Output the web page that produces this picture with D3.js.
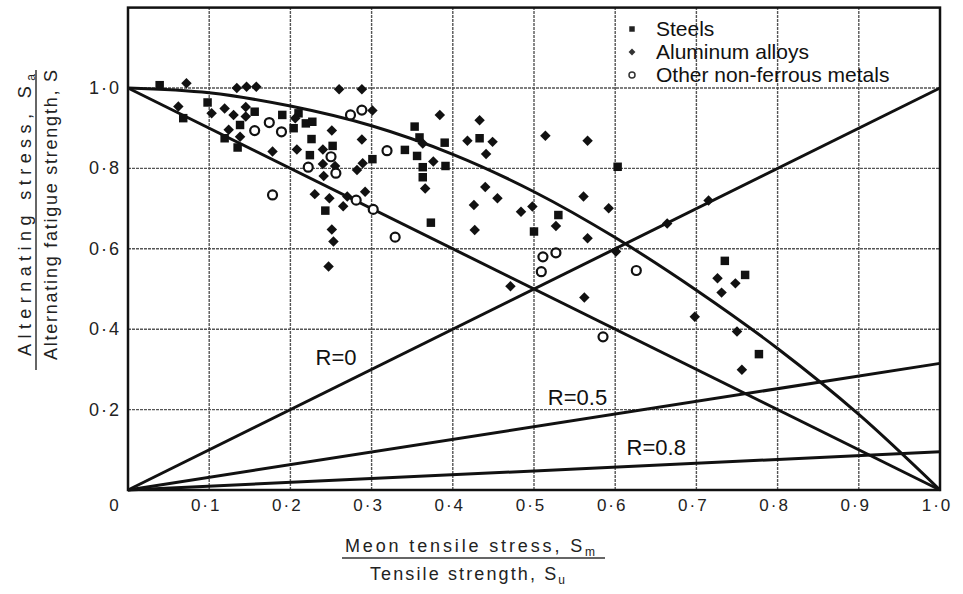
<!DOCTYPE html>
<html>
<head>
<meta charset="utf-8">
<script src="https://cdn.jsdelivr.net/npm/d3@7"></script>
<style>
  body { margin: 0; background: #fff; }
  svg { display: block; font-family: "Liberation Sans", Arial, sans-serif; }
</style>
</head>
<body>
<svg id="chart" width="963" height="594"></svg>
<script>
// x = Sm/Su, y = Sa/S
const steels = [
  [0.039, 1.007], [0.098, 0.964], [0.068, 0.925], [0.156, 0.941], [0.138, 0.908],
  [0.119, 0.875], [0.135, 0.852], [0.190, 0.933], [0.210, 0.937], [0.204, 0.900],
  [0.219, 0.912], [0.227, 0.916], [0.226, 0.873], [0.224, 0.833], [0.252, 0.856],
  [0.301, 0.823], [0.243, 0.695], [0.353, 0.904], [0.359, 0.877], [0.341, 0.846],
  [0.356, 0.831], [0.390, 0.864], [0.391, 0.806], [0.363, 0.803], [0.363, 0.778],
  [0.433, 0.875], [0.603, 0.804], [0.530, 0.684], [0.500, 0.643], [0.373, 0.665],
  [0.735, 0.570], [0.760, 0.535], [0.777, 0.338]
];
const aluminum = [
  [0.072, 1.012], [0.134, 1.000], [0.146, 1.003], [0.158, 1.003], [0.260, 0.997],
  [0.288, 0.997], [0.062, 0.954], [0.103, 0.937], [0.119, 0.949], [0.145, 0.953],
  [0.130, 0.933], [0.145, 0.929], [0.124, 0.896], [0.138, 0.879], [0.206, 0.925],
  [0.301, 0.944], [0.251, 0.894], [0.288, 0.872], [0.178, 0.842], [0.208, 0.847],
  [0.240, 0.847], [0.240, 0.811], [0.255, 0.806], [0.241, 0.781], [0.282, 0.796],
  [0.289, 0.813], [0.230, 0.736], [0.248, 0.726], [0.265, 0.706], [0.270, 0.730],
  [0.292, 0.742], [0.251, 0.648], [0.253, 0.618], [0.247, 0.556], [0.384, 0.933],
  [0.363, 0.862], [0.376, 0.817], [0.366, 0.750], [0.433, 0.920], [0.418, 0.869],
  [0.449, 0.866], [0.441, 0.836], [0.514, 0.881], [0.566, 0.869], [0.440, 0.754],
  [0.455, 0.726], [0.426, 0.709], [0.484, 0.692], [0.498, 0.705], [0.527, 0.657],
  [0.561, 0.730], [0.592, 0.701], [0.566, 0.626], [0.427, 0.647], [0.601, 0.593],
  [0.471, 0.507], [0.562, 0.479], [0.664, 0.663], [0.715, 0.720], [0.726, 0.527],
  [0.748, 0.514], [0.731, 0.491], [0.698, 0.431], [0.750, 0.394], [0.756, 0.299]
];
const otherMetals = [
  [0.156, 0.894], [0.174, 0.914], [0.189, 0.891], [0.288, 0.945], [0.274, 0.933],
  [0.319, 0.844], [0.250, 0.829], [0.256, 0.788], [0.222, 0.803], [0.178, 0.734],
  [0.281, 0.721], [0.302, 0.698], [0.329, 0.629], [0.511, 0.580], [0.527, 0.590],
  [0.509, 0.543], [0.626, 0.546], [0.585, 0.381]
];

// upper (Gerber-type) curve
const gerberCurve = [
  [0, 1.0], [0.1, 0.988], [0.2, 0.955], [0.3, 0.906], [0.4, 0.835], [0.5, 0.742],
  [0.6, 0.628], [0.7, 0.497], [0.8, 0.352], [0.9, 0.188], [1.0, 0.0]
];
const goodmanLine = [[0, 1.0], [1.0, 0.0]];
const rLines = [
  { name: "R=0", pts: [[0, 0], [1.0, 1.0]], label: [0.231, 0.31] },
  { name: "R=0.5", pts: [[0, 0], [1.0, 0.315]], label: [0.517, 0.211] },
  { name: "R=0.8", pts: [[0, 0], [1.0, 0.095]], label: [0.614, 0.087] }
];

const xTicks = [0, 0.1, 0.2, 0.3, 0.4, 0.5, 0.6, 0.7, 0.8, 0.9, 1.0];
const xTickLabels = ["0", "0·1", "0·2", "0·3", "0·4", "0·5", "0·6", "0·7", "0·8", "0·9", "1·0"];
const yTicks = [0.2, 0.4, 0.6, 0.8, 1.0];
const yTickLabels = ["0·2", "0·4", "0·6", "0·8", "1·0"];
const legendItems = ["Steels", "Aluminum alloys", "Other non-ferrous metals"];

const svg = d3.select("#chart");
const x = d3.scaleLinear().domain([0, 1]).range([128, 940]);
const y = d3.scaleLinear().domain([0, 1.2]).range([490, 7.6]);

// grid
const grid = svg.append("g")
  .attr("stroke", "#555")
  .attr("stroke-width", 1.4)
  .attr("stroke-dasharray", "3,1");
grid.selectAll(".gx")
  .data(xTicks.slice(1, -1))
  .join("line")
  .attr("x1", d => x(d)).attr("x2", d => x(d))
  .attr("y1", y(0)).attr("y2", y(1.2));
grid.selectAll(".gy")
  .data(yTicks)
  .join("line")
  .attr("x1", x(0)).attr("x2", x(1))
  .attr("y1", d => y(d)).attr("y2", d => y(d));

// frame
svg.append("rect")
  .attr("x", x(0)).attr("y", y(1.2))
  .attr("width", x(1) - x(0)).attr("height", y(0) - y(1.2))
  .attr("fill", "none").attr("stroke", "#111").attr("stroke-width", 2.5);

// tick labels
svg.append("g").selectAll("text")
  .data(xTicks)
  .join("text")
  .attr("x", (d, i) => x(d) + (i === 0 ? -13 : -3))
  .attr("y", 511)
  .attr("text-anchor", "middle")
  .attr("font-size", 17)
  .attr("letter-spacing", 2)
  .attr("fill", "#222")
  .text((d, i) => xTickLabels[i]);

svg.append("g").selectAll("text")
  .data(yTicks)
  .join("text")
  .attr("x", 121)
  .attr("y", d => y(d) + 6)
  .attr("text-anchor", "end")
  .attr("font-size", 18)
  .attr("letter-spacing", 2)
  .attr("fill", "#222")
  .text((d, i) => yTickLabels[i]);

// curves
const line = d3.line().x(d => x(d[0])).y(d => y(d[1]));
const curve = d3.line().x(d => x(d[0])).y(d => y(d[1])).curve(d3.curveCatmullRom);
const lines = svg.append("g")
  .attr("fill", "none").attr("stroke", "#111").attr("stroke-width", 3);
lines.append("path").attr("d", curve(gerberCurve));
lines.append("path").attr("d", line(goodmanLine));
lines.selectAll(".rline")
  .data(rLines)
  .join("path")
  .attr("d", d => line(d.pts));

// R labels
svg.append("g").selectAll("text")
  .data(rLines)
  .join("text")
  .attr("x", d => x(d.label[0]))
  .attr("y", d => y(d.label[1]))
  .attr("font-size", 22)
  .attr("fill", "#111")
  .text(d => d.name);

// markers
const sq = d3.symbol().type(d3.symbolSquare).size(72);
const dia = d3.symbol().type(d3.symbolDiamond2).size(70);
const pts = svg.append("g");
pts.selectAll(".steel")
  .data(steels)
  .join("path")
  .attr("transform", d => `translate(${x(d[0])},${y(d[1])})`)
  .attr("d", sq)
  .attr("fill", "#111");
pts.selectAll(".alu")
  .data(aluminum)
  .join("path")
  .attr("transform", d => `translate(${x(d[0])},${y(d[1])})`)
  .attr("d", dia)
  .attr("fill", "#111");
pts.selectAll(".other")
  .data(otherMetals)
  .join("circle")
  .attr("cx", d => x(d[0])).attr("cy", d => y(d[1]))
  .attr("r", 4.5)
  .attr("fill", "#fff").attr("stroke", "#111").attr("stroke-width", 2.2);

// legend
const legend = svg.append("g").selectAll("g")
  .data(legendItems)
  .join("g")
  .attr("transform", (d, i) => `translate(632, ${29 + 23 * i})`);
legend.each(function (d, i) {
  const g = d3.select(this);
  if (i === 0) g.append("path").attr("d", d3.symbol().type(d3.symbolSquare).size(30)).attr("fill", "#222");
  if (i === 1) g.append("path").attr("d", d3.symbol().type(d3.symbolDiamond2).size(30)).attr("fill", "#333");
  if (i === 2) g.append("circle").attr("r", 3).attr("fill", "#fff").attr("stroke", "#333").attr("stroke-width", 1.5);
});
legend.append("text")
  .attr("x", 24).attr("y", 7)
  .attr("font-size", 21)
  .attr("fill", "#111")
  .text(d => d);

// axis titles
const xt = svg.append("g").attr("fill", "#222").attr("font-size", 18);
const xl1 = xt.append("text").attr("x", 345).attr("y", 552).attr("textLength", 250);
xl1.append("tspan").text("Meon  tensile  stress,  S");
xl1.append("tspan").attr("font-size", 12).attr("dy", 4).text("m");
xt.append("line").attr("x1", 342).attr("x2", 605).attr("y1", 558).attr("y2", 558)
  .attr("stroke", "#333").attr("stroke-width", 1.5);
const xl2 = xt.append("text").attr("x", 370).attr("y", 580).attr("textLength", 195);
xl2.append("tspan").text("Tensile   strength, S");
xl2.append("tspan").attr("font-size", 12).attr("dy", 4).text("u");

const yt = svg.append("g").attr("fill", "#222").attr("font-size", 18);
const yl1 = yt.append("text").attr("transform", "translate(31,215) rotate(-90)")
  .attr("text-anchor", "middle").attr("textLength", 282);
yl1.append("tspan").text("Alternating  stress,  S");
yl1.append("tspan").attr("font-size", 12).attr("dy", 4).text("a");
yt.append("line").attr("x1", 36).attr("x2", 36).attr("y1", 70).attr("y2", 370)
  .attr("stroke", "#333").attr("stroke-width", 1.5);
yt.append("text").attr("transform", "translate(57,215) rotate(-90)")
  .attr("text-anchor", "middle").attr("textLength", 290)
  .text("Alternating  fatigue  strength, S");
</script>
</body>
</html>
